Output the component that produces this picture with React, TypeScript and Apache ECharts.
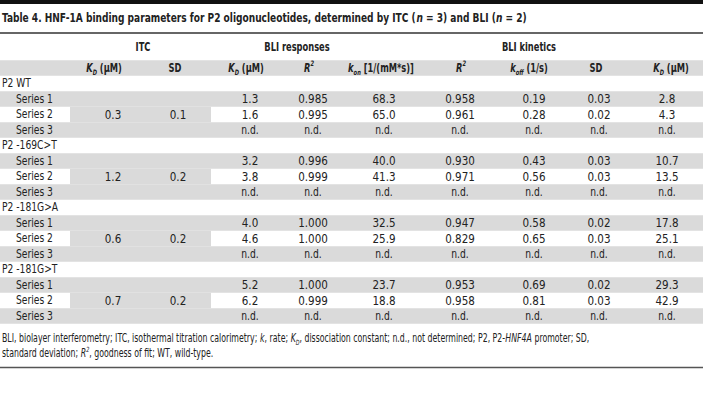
import React, { useEffect, useRef } from "react";
import * as echarts from "echarts";

// ---------- data ----------
const TITLE =
  "Table 4. HNF-1A binding parameters for P2 oligonucleotides, determined by ITC ({bi|n} = 3) and BLI ({bi|n} = 2)";
const GROUP_HEADERS = ["ITC", "BLI responses", "BLI kinetics"];
const COLUMN_HEADERS = [
  "{bi|K}{bsub|D} (μM)",
  "SD",
  "{bi|K}{bsub|D} (μM)",
  "{bi|R}{bsup|2}",
  "{bi|k}{bsub|on} [1/(mM*s)]",
  "{bi|R}{bsup|2}",
  "{bi|k}{bsub|off} (1/s)",
  "SD",
  "{bi|K}{bsub|D} (μM)",
];
const GROUPS = ["P2 WT", "P2 -169C>T", "P2 -181G>A", "P2 -181G>T"];
const SERIES_LABELS = ["Series 1", "Series 2", "Series 3"];
const ITC_KD = ["0.3", "1.2", "0.6", "0.7"];
const ITC_SD = ["0.1", "0.2", "0.2", "0.2"];
const BLI_KD = [
  ["1.3", "1.6", "n.d."],
  ["3.2", "3.8", "n.d."],
  ["4.0", "4.6", "n.d."],
  ["5.2", "6.2", "n.d."],
];
const BLI_R2 = [
  ["0.985", "0.995", "n.d."],
  ["0.996", "0.999", "n.d."],
  ["1.000", "1.000", "n.d."],
  ["1.000", "0.999", "n.d."],
];
const KIN_KON = [
  ["68.3", "65.0", "n.d."],
  ["40.0", "41.3", "n.d."],
  ["32.5", "25.9", "n.d."],
  ["23.7", "18.8", "n.d."],
];
const KIN_R2 = [
  ["0.958", "0.961", "n.d."],
  ["0.930", "0.971", "n.d."],
  ["0.947", "0.829", "n.d."],
  ["0.953", "0.958", "n.d."],
];
const KIN_KOFF = [
  ["0.19", "0.28", "n.d."],
  ["0.43", "0.56", "n.d."],
  ["0.58", "0.65", "n.d."],
  ["0.69", "0.81", "n.d."],
];
const KIN_SD = [
  ["0.03", "0.02", "n.d."],
  ["0.03", "0.03", "n.d."],
  ["0.02", "0.03", "n.d."],
  ["0.02", "0.03", "n.d."],
];
const KIN_KD = [
  ["2.8", "4.3", "n.d."],
  ["10.7", "13.5", "n.d."],
  ["17.8", "25.1", "n.d."],
  ["29.3", "42.9", "n.d."],
];
const FOOTNOTE_LINES = [
  "BLI, biolayer interferometry; ITC, isothermal titration calorimetry; {i|k}, rate; {i|K}{isub|D}, dissociation constant; n.d., not determined; P2, P2-{i|HNF4A} promoter; SD,",
  "standard deviation; {i|R}{isup|2}, goodness of fit; WT, wild-type.",
];

// ---------- layout / style ----------
const W = 703;
const H = 419;
const FONT = "'DejaVu Sans Condensed', 'DejaVu Sans', sans-serif";
const TEXT = "#222222";
const GRAY = "#dadada";
const FS = 12;
const LH = 16;
const HEADER_X = [104, 175, 246, 309, 381, 461, 529, 596, 671];
const VALUE_X = [113, 178, 250, 313, 384, 460, 534, 599, 667];
const GROUP_HEADER_X = [143, 297, 529];
const ROW0_Y = 68;
const ROW_H = 15.5;
const SCALE_BOLD = 0.77;
const SCALE_TEXT = 0.85;
const SCALE_NUM = 0.96;

function richStyles(fs: number, weight: string) {
  const base = { fontFamily: FONT, fill: TEXT, fontWeight: weight };
  return {
    i: { ...base, fontSize: fs, fontStyle: "italic", lineHeight: LH },
    isub: { ...base, fontSize: fs * 0.62, fontStyle: "italic", lineHeight: 8, verticalAlign: "bottom" },
    isup: { ...base, fontSize: fs * 0.62, fontStyle: "italic", lineHeight: 8, verticalAlign: "top" },
    bi: { ...base, fontSize: fs, fontStyle: "italic", fontWeight: "bold", lineHeight: LH },
    bsub: { ...base, fontSize: fs * 0.62, fontStyle: "italic", fontWeight: "bold", lineHeight: 8, verticalAlign: "bottom" },
    bsup: { ...base, fontSize: fs * 0.62, fontStyle: "italic", fontWeight: "bold", lineHeight: 8, verticalAlign: "top" },
  };
}

function txt(text: string, x: number, y: number, opts: any = {}) {
  const fs = opts.fontSize ?? FS;
  const weight = opts.fontWeight ?? "normal";
  let sx = opts.scaleX;
  if (sx === undefined) {
    if (weight === "bold") sx = SCALE_BOLD;
    else if (/^[0-9.]+$/.test(text)) sx = SCALE_NUM;
    else sx = SCALE_TEXT;
  }
  return {
    type: "text",
    silent: true,
    x,
    y,
    scaleX: sx,
    style: {
      text,
      fontFamily: FONT,
      fontSize: fs,
      fontWeight: weight,
      fill: TEXT,
      lineHeight: LH,
      align: opts.align ?? "center",
      verticalAlign: "middle",
      rich: richStyles(fs, weight),
    },
  };
}

function rect(x: number, y: number, w: number, h: number, fill: string) {
  return { type: "rect", silent: true, shape: { x, y, width: w, height: h }, style: { fill } };
}

function hline(y: number, color: string, lw: number) {
  return { type: "line", silent: true, shape: { x1: 0, y1: y, x2: W, y2: y }, style: { stroke: color, lineWidth: lw } };
}

function buildGraphics() {
  const g: any[] = [];
  const rowY = (k: number) => ROW0_Y + ROW_H * k;
  // backgrounds
  g.push(rect(0, rowY(0) - ROW_H / 2, W, ROW_H, GRAY));
  GROUPS.forEach((_, gi) => {
    const base = 1 + gi * 4;
    g.push(rect(0, rowY(base + 1) - ROW_H / 2, W, ROW_H, GRAY));
    g.push(rect(0, rowY(base + 3) - ROW_H / 2, W, ROW_H, GRAY));
    g.push(rect(70, rowY(base + 2) - ROW_H / 2, 141, ROW_H, GRAY));
  });
  // rules
  g.push(rect(0, 0, W, 4, "#111111"));
  g.push(hline(33, "#333333", 1.5));
  g.push(hline(367.5, "#555555", 1.5));
  // title
  g.push(txt(TITLE, 2, 18, { align: "left", fontWeight: "bold", fontSize: 13, scaleX: 0.775 }));
  // headers
  GROUP_HEADERS.forEach((h, i) => g.push(txt(h, GROUP_HEADER_X[i], 47, { fontWeight: "bold" })));
  COLUMN_HEADERS.forEach((h, i) => g.push(txt(h, HEADER_X[i], rowY(0), { fontWeight: "bold" })));
  // body
  const cols = [BLI_KD, BLI_R2, KIN_KON, KIN_R2, KIN_KOFF, KIN_SD, KIN_KD];
  GROUPS.forEach((name, gi) => {
    const base = 1 + gi * 4;
    g.push(txt(name, 2, rowY(base), { align: "left" }));
    SERIES_LABELS.forEach((s, si) => {
      const y = rowY(base + 1 + si);
      g.push(txt(s, 16, y, { align: "left" }));
      cols.forEach((col, ci) => g.push(txt(col[gi][si], VALUE_X[ci + 2], y)));
    });
    g.push(txt(ITC_KD[gi], VALUE_X[0], rowY(base + 2)));
    g.push(txt(ITC_SD[gi], VALUE_X[1], rowY(base + 2)));
  });
  // footnote
  FOOTNOTE_LINES.forEach((l, i) =>
    g.push(txt(l, 2, 338 + i * 15.5, { align: "left", fontSize: 11.5, scaleX: 0.757 }))
  );
  return g;
}

export default function App() {
  const ref = useRef<HTMLDivElement>(null);
  useEffect(() => {
    if (!ref.current) return;
    const chart = echarts.init(ref.current, undefined, { renderer: "svg" });
    chart.setOption({
      animation: false,
      backgroundColor: "#ffffff",
      graphic: { elements: buildGraphics() },
    });
    return () => chart.dispose();
  }, []);
  return (
    <div
      ref={ref}
      style={{ position: "fixed", left: 0, top: 0, width: W, height: H, background: "#fff" }}
    />
  );
}
